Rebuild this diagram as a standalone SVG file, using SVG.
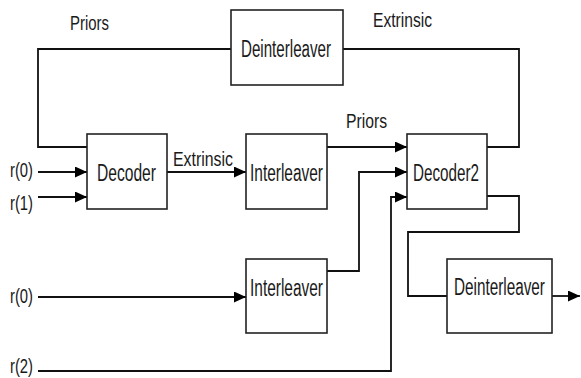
<svg xmlns="http://www.w3.org/2000/svg" width="581" height="378" viewBox="0 0 581 378">
<style>
.box{fill:#fff;stroke:#222;stroke-width:1.6}
.ln{fill:none;stroke:#111;stroke-width:1.8}
text{font-family:"Liberation Sans",Arial,sans-serif;fill:#1a1a1a}
.bl{font-size:23px}
.lb{font-size:21px}
.rl{font-size:20px}
</style>
<defs>
<marker id="ah" markerUnits="userSpaceOnUse" markerWidth="12" markerHeight="11" refX="12" refY="5.5" orient="auto">
<path d="M0,0 L12,5.5 L0,11 Z" fill="#000"/>
</marker>
</defs>
<g id="connectors">
<polyline class="ln" points="231,49 38,49 38,147 87,147"/>
<polyline class="ln" points="343,49 519,49 519,147 487,147"/>
<line class="ln" x1="38" y1="172" x2="87" y2="172" marker-end="url(#ah)"/>
<line class="ln" x1="38" y1="197" x2="87" y2="197" marker-end="url(#ah)"/>
<line class="ln" x1="167" y1="172" x2="246" y2="172" marker-end="url(#ah)"/>
<line class="ln" x1="327" y1="147" x2="407" y2="147" marker-end="url(#ah)"/>
<polyline class="ln" points="327,271 359,271 359,172 407,172" marker-end="url(#ah)"/>
<polyline class="ln" points="38,371 391,371 391,197 407,197" marker-end="url(#ah)"/>
<polyline class="ln" points="487,196 519,196 519,232 408,232 408,296 447,296"/>
<line class="ln" x1="38" y1="297" x2="246" y2="297" marker-end="url(#ah)"/>
<line class="ln" x1="552" y1="296" x2="580" y2="296" marker-end="url(#ah)"/>
</g>
<g id="labels">
<text class="lb" x="70" y="30" textLength="39" lengthAdjust="spacingAndGlyphs">Priors</text>
<text class="lb" x="373" y="27" textLength="59" lengthAdjust="spacingAndGlyphs">Extrinsic</text>
<text class="lb" x="173" y="166" textLength="60" lengthAdjust="spacingAndGlyphs">Extrinsic</text>
<text class="lb" x="346" y="128" textLength="41" lengthAdjust="spacingAndGlyphs">Priors</text>
<text class="rl" x="10" y="177" textLength="23" lengthAdjust="spacingAndGlyphs">r(0)</text>
<text class="rl" x="10" y="210" textLength="23" lengthAdjust="spacingAndGlyphs">r(1)</text>
<text class="rl" x="10" y="303" textLength="23" lengthAdjust="spacingAndGlyphs">r(0)</text>
<text class="rl" x="10" y="373" textLength="23" lengthAdjust="spacingAndGlyphs">r(2)</text>
</g>
<g id="deinterleaver1">
<rect class="box" x="231" y="10" width="112" height="75"/>
<text class="bl" x="241" y="57" textLength="90" lengthAdjust="spacingAndGlyphs">Deinterleaver</text>
</g>
<g id="decoder">
<rect class="box" x="87" y="134" width="80" height="75"/>
<text class="bl" x="97" y="181" textLength="59" lengthAdjust="spacingAndGlyphs">Decoder</text>
</g>
<g id="interleaver1">
<rect class="box" x="246" y="134" width="81" height="75"/>
<text class="bl" x="250" y="181" textLength="73" lengthAdjust="spacingAndGlyphs">Interleaver</text>
</g>
<g id="decoder2">
<rect class="box" x="407" y="134" width="80" height="75"/>
<text class="bl" x="413" y="181" textLength="66" lengthAdjust="spacingAndGlyphs">Decoder2</text>
</g>
<g id="interleaver2">
<rect class="box" x="246" y="259" width="81" height="74"/>
<text class="bl" x="250" y="296" textLength="73" lengthAdjust="spacingAndGlyphs">Interleaver</text>
</g>
<g id="deinterleaver2">
<rect class="box" x="447" y="259" width="105" height="74"/>
<text class="bl" transform="translate(454,295) scale(0.665,1)">Deinterleaver</text>
</g>
</svg>
